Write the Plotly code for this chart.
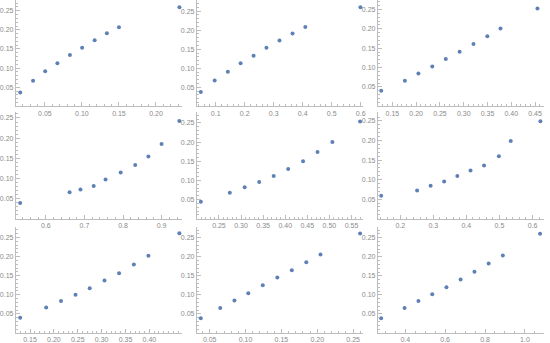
import plotly.graph_objects as go

# ---- data ----
x1 = [0.0167, 0.0340, 0.0504, 0.0669, 0.0838, 0.1003, 0.1172, 0.1337, 0.1500, 0.2317]
y1 = [0.036, 0.067, 0.092, 0.113, 0.134, 0.1535, 0.173, 0.191, 0.207, 0.259]
x2 = [0.0489, 0.0966, 0.142, 0.186, 0.2307, 0.275, 0.320, 0.365, 0.409, 0.599]
y2 = [0.038, 0.068, 0.091, 0.113, 0.133, 0.154, 0.173, 0.191, 0.208, 0.260]
x3 = [0.1264, 0.1763, 0.2047, 0.2339, 0.2623, 0.2914, 0.3205, 0.3496, 0.3773, 0.455]
y3 = [0.040, 0.066, 0.085, 0.103, 0.122, 0.141, 0.161, 0.181, 0.201, 0.252]
x4 = [0.5333, 0.6615, 0.6897, 0.724, 0.7547, 0.794, 0.8316, 0.8658, 0.900, 0.946]
y4 = [0.0393, 0.0657, 0.0723, 0.0814, 0.0971, 0.1145, 0.1335, 0.1541, 0.1855, 0.2426]
x5 = [0.209, 0.2746, 0.3082, 0.341, 0.3739, 0.4067, 0.4403, 0.4731, 0.5067, 0.5694]
y5 = [0.044, 0.068, 0.082, 0.096, 0.1115, 0.130, 0.150, 0.174, 0.200, 0.254]
x6 = [0.1421, 0.2509, 0.2918, 0.3327, 0.3726, 0.4125, 0.4534, 0.4983, 0.5342, 0.6239]
y6 = [0.0585, 0.072, 0.084, 0.095, 0.109, 0.123, 0.136, 0.160, 0.199, 0.249]
x7 = [0.1293, 0.1838, 0.2149, 0.2453, 0.275, 0.306, 0.3365, 0.3675, 0.398, 0.4628]
y7 = [0.040, 0.067, 0.084, 0.100, 0.117, 0.137, 0.156, 0.179, 0.202, 0.2605]
x8 = [0.0376, 0.0647, 0.0845, 0.1038, 0.124, 0.1443, 0.1645, 0.1847, 0.2045, 0.2597]
y8 = [0.0386, 0.0658, 0.0851, 0.1044, 0.1254, 0.1456, 0.1649, 0.186, 0.2061, 0.2614]
x9 = [0.2793, 0.3967, 0.4661, 0.5355, 0.6066, 0.6777, 0.7471, 0.8182, 0.8893, 1.076]
y9 = [0.0386, 0.0658, 0.0842, 0.1018, 0.1202, 0.1404, 0.1605, 0.1825, 0.2035, 0.2605]

y_ticks = [0.05, 0.10, 0.15, 0.20, 0.25]
y_ticktext = ["0.05", "0.10", "0.15", "0.20", "0.25"]

x_ticks = [
    [0.05, 0.10, 0.15, 0.20],
    [0.1, 0.2, 0.3, 0.4, 0.5, 0.6],
    [0.15, 0.20, 0.25, 0.30, 0.35, 0.40, 0.45],
    [0.6, 0.7, 0.8, 0.9],
    [0.25, 0.30, 0.35, 0.40, 0.45, 0.50, 0.55],
    [0.2, 0.3, 0.4, 0.5, 0.6],
    [0.15, 0.20, 0.25, 0.30, 0.35, 0.40],
    [0.05, 0.10, 0.15, 0.20, 0.25],
    [0.4, 0.6, 0.8, 1.0],
]
x_ticktext = [
    ["0.05", "0.10", "0.15", "0.20"],
    ["0.1", "0.2", "0.3", "0.4", "0.5", "0.6"],
    ["0.15", "0.20", "0.25", "0.30", "0.35", "0.40", "0.45"],
    ["0.6", "0.7", "0.8", "0.9"],
    ["0.25", "0.30", "0.35", "0.40", "0.45", "0.50", "0.55"],
    ["0.2", "0.3", "0.4", "0.5", "0.6"],
    ["0.15", "0.20", "0.25", "0.30", "0.35", "0.40"],
    ["0.05", "0.10", "0.15", "0.20", "0.25"],
    ["0.4", "0.6", "0.8", "1.0"],
]
x_minor = [0.01, 0.02, 0.01, 0.02, 0.01, 0.02, 0.01, 0.01, 0.05]

xs = [x1, x2, x3, x4, x5, x6, x7, x8, x9]
ys = [y1, y2, y3, y4, y5, y6, y7, y8, y9]

# ---- layout / style ----
x_ranges = [
    [0.0108, 0.2352], [0.0352, 0.608], [0.1195, 0.4688],
    [0.5222, 0.953], [0.2, 0.5761], [0.1322, 0.6349],
    [0.1203, 0.4684], [0.0321, 0.2638], [0.2628, 1.0959],
]
y_tops = [0.278, 0.279, 0.2742, 0.264, 0.2777, 0.272, 0.278, 0.279, 0.279]

W, H = 550, 343
col_left = [13, 196, 379]
col_right = [181, 364, 547]
row_top = [0, 113, 228]
row_bot = [107, 220, 335]

axis_col = "#bdbdbd"
label_col = "#8a8a8a"
marker_col = "#5E81B5"

fig = go.Figure()
for i in range(9):
    r, c = divmod(i, 3)
    n = "" if i == 0 else str(i + 1)
    fig.add_trace(go.Scatter(
        x=xs[i], y=ys[i], mode="markers",
        marker=dict(color=marker_col, size=4),
        xaxis="x" + n, yaxis="y" + n, showlegend=False,
        hoverinfo="x+y", cliponaxis=False,
    ))
    common = dict(
        showgrid=False, zeroline=False, showline=True, linecolor=axis_col,
        linewidth=1, ticks="inside", ticklen=4, tickcolor=axis_col,
        tickfont=dict(family="Liberation Sans, Arial, sans-serif", size=7, color=label_col),
        fixedrange=True,
    )
    fig.layout["xaxis" + n] = dict(
        common,
        domain=[col_left[c] / W, col_right[c] / W],
        range=x_ranges[i],
        anchor="y" + n,
        tickvals=x_ticks[i], ticktext=x_ticktext[i],
        minor=dict(ticks="inside", ticklen=2, tickcolor=axis_col, dtick=x_minor[i], tick0=0),
    )
    fig.layout["yaxis" + n] = dict(
        common,
        domain=[1 - row_bot[r] / H, 1 - row_top[r] / H],
        range=[0, y_tops[i]],
        anchor="x" + n,
        tickvals=y_ticks, ticktext=y_ticktext,
        minor=dict(ticks="inside", ticklen=2, tickcolor=axis_col, dtick=0.01, tick0=0),
    )

fig.update_layout(
    width=W, height=H,
    margin=dict(l=0, r=0, t=0, b=0),
    paper_bgcolor="white", plot_bgcolor="white",
)

fig.write_html(
    "out.html",
    config={"displayModeBar": False},
    post_script="document.body.style.margin='0';document.body.style.padding='0';",
)
